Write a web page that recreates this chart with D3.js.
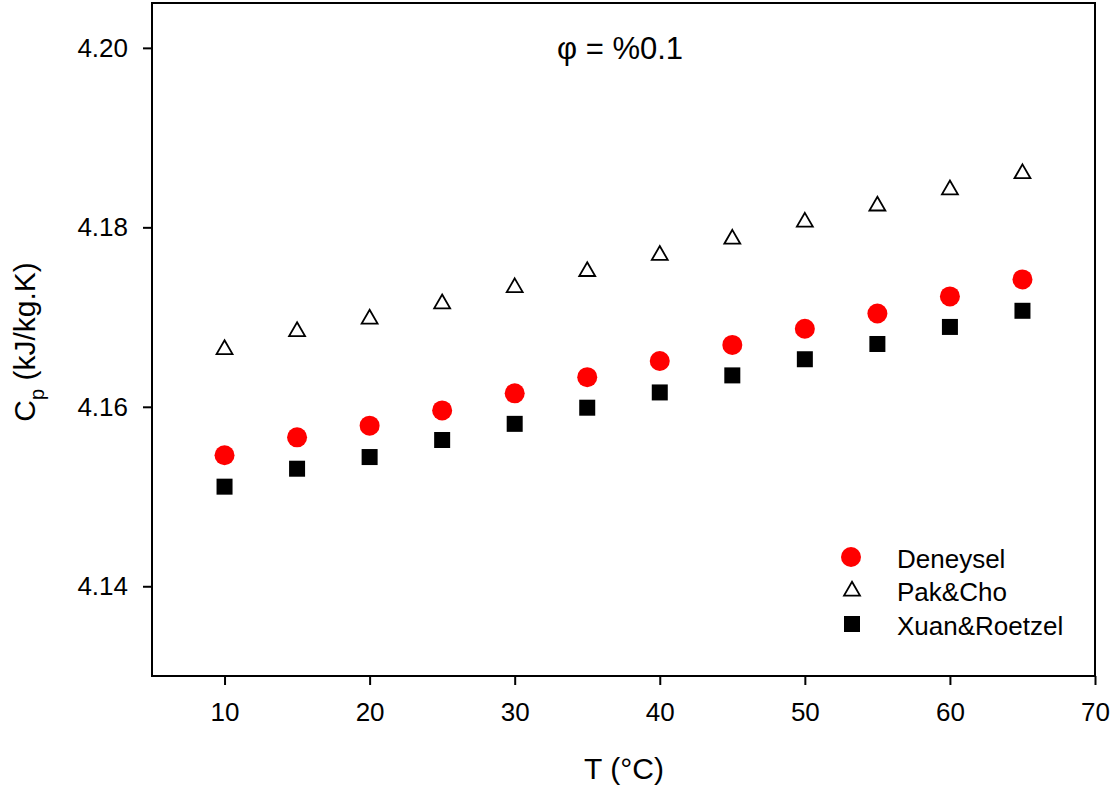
<!DOCTYPE html>
<html>
<head>
<meta charset="utf-8">
<script src="https://cdn.jsdelivr.net/npm/d3@7"></script>
<style>
  body { margin: 0; background: #fff; }
  text { font-family: Arial, "Liberation Sans", sans-serif; fill: #000; }
</style>
</head>
<body>
<div id="chart"></div>
<script>
const width = 1118;
const height = 794;

// data
const temps = [10, 15, 20, 25, 30, 35, 40, 45, 50, 55, 60, 65];
const deneysel = [4.1546, 4.1566, 4.1579, 4.1596, 4.1615, 4.1633, 4.1651, 4.1669, 4.1687, 4.1704, 4.1723, 4.1742];
const pakCho = [4.1665, 4.1685, 4.1699, 4.1716, 4.1734, 4.1752, 4.1770, 4.1788, 4.1807, 4.1825, 4.1843, 4.1861];
const xuanRoetzel = [4.1511, 4.1531, 4.1544, 4.1563, 4.1581, 4.1599, 4.1616, 4.1635, 4.1653, 4.1670, 4.1689, 4.1707];
const xTicks = [10, 20, 30, 40, 50, 60, 70];
const yTicks = [4.14, 4.16, 4.18, 4.20];
const seriesNames = ["Deneysel", "Pak&Cho", "Xuan&Roetzel"];

const margin = {left: 152, right: 23, top: 3, bottom: 118};

const svg = d3.select("#chart")
    .append("svg")
    .attr("width", width)
    .attr("height", height);

const x = d3.scaleLinear()
    .domain([5, 70])
    .range([margin.left, width - margin.right]);

const y = d3.scaleLinear()
    .domain([4.13, 4.205])
    .range([height - margin.bottom, margin.top]);

// frame
svg.append("rect")
    .attr("x", x(5))
    .attr("y", y(4.205))
    .attr("width", x(70) - x(5))
    .attr("height", y(4.13) - y(4.205))
    .attr("fill", "none")
    .attr("stroke", "#000")
    .attr("stroke-width", 2);

const xAxis = svg.append("g")
    .attr("transform", `translate(0,${y(4.13)})`)
    .call(d3.axisBottom(x).tickValues(xTicks).tickSize(9).tickPadding(18).tickFormat(d3.format("d")));

const yAxis = svg.append("g")
    .attr("transform", `translate(${x(5)},0)`)
    .call(d3.axisLeft(y).tickValues(yTicks).tickSize(9).tickPadding(15).tickFormat(d3.format(".2f")));

[xAxis, yAxis].forEach(g => {
    g.attr("font-size", null).attr("font-family", null);
    g.select(".domain").remove();
    g.selectAll(".tick line").attr("stroke", "#000").attr("stroke-width", 2);
    g.selectAll(".tick text")
        .style("font-family", "Arial, 'Liberation Sans', sans-serif")
        .style("font-size", "26px")
        .attr("fill", "#000");
});

// axis titles
svg.append("text")
    .attr("x", 624)
    .attr("y", 779)
    .attr("text-anchor", "middle")
    .style("font-size", "30px")
    .text("T (°C)");

const yLabel = svg.append("text")
    .attr("transform", `translate(35,342) rotate(-90)`)
    .attr("text-anchor", "middle")
    .style("font-size", "30px");
yLabel.append("tspan").text("C");
yLabel.append("tspan").attr("dy", 9).style("font-size", "20px").text("p");
yLabel.append("tspan").attr("dy", -9).text(" (kJ/kg.K)");

// annotation
svg.append("text")
    .attr("x", 620)
    .attr("y", 59)
    .attr("text-anchor", "middle")
    .style("font-size", "31px")
    .text("φ = %0.1");

const triangle = d3.symbol().type(d3.symbolTriangle).size(110);

// series
svg.append("g").selectAll("circle")
    .data(temps)
    .join("circle")
    .attr("cx", d => x(d))
    .attr("cy", (d, i) => y(deneysel[i]))
    .attr("r", 10)
    .attr("fill", "#ff0000");

svg.append("g").selectAll("path")
    .data(temps)
    .join("path")
    .attr("d", triangle)
    .attr("transform", (d, i) => `translate(${x(d)},${y(pakCho[i]) + 1})`)
    .attr("fill", "#fff")
    .attr("stroke", "#000")
    .attr("stroke-width", 1.8);

svg.append("g").selectAll("rect")
    .data(temps)
    .join("rect")
    .attr("x", d => x(d) - 8)
    .attr("y", (d, i) => y(xuanRoetzel[i]) - 8)
    .attr("width", 16)
    .attr("height", 16)
    .attr("fill", "#000");

// legend
const legend = svg.append("g");
const legendY = [557, 590, 624];
legend.append("circle").attr("cx", 851).attr("cy", legendY[0]).attr("r", 10).attr("fill", "#ff0000");
legend.append("path").attr("d", triangle)
    .attr("transform", `translate(852,${legendY[1] + 1})`)
    .attr("fill", "#fff").attr("stroke", "#000").attr("stroke-width", 1.8);
legend.append("rect").attr("x", 844).attr("y", legendY[2] - 8).attr("width", 16).attr("height", 16).attr("fill", "#000");

legend.selectAll("text")
    .data(seriesNames)
    .join("text")
    .attr("x", 897)
    .attr("y", (d, i) => legendY[i] + 11)
    .style("font-size", "26px")
    .text(d => d);
</script>
</body>
</html>
